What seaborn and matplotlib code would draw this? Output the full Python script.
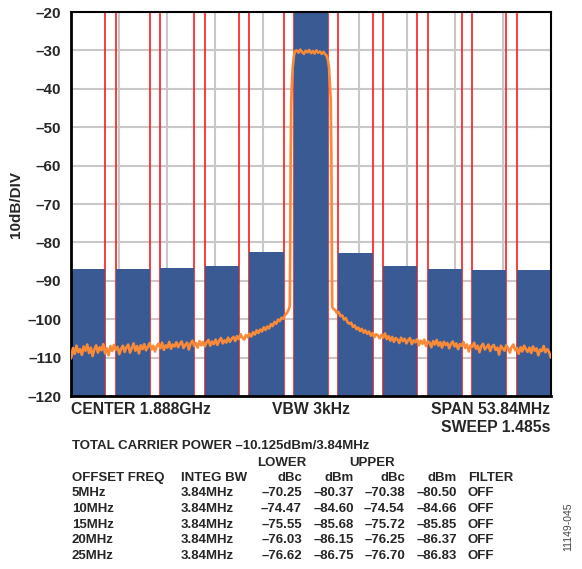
import numpy as np
import pandas as pd
import seaborn as sns
import matplotlib.pyplot as plt

# channel power bars (MHz offset from center, dBm)
channel_offsets = [-25, -20, -15, -10, -5, 0, 5, 10, 15, 20, 25]
channel_power = [-87.0, -87.0, -86.7, -86.1, -82.6, -10.1, -82.8, -86.2, -87.0, -87.3, -87.3]
integ_bw = 3.84
span = 53.84

# spectrum trace, lower side noise floor (0.2 MHz steps)
lower_freq = np.linspace(-26.9, -2.5, 123)
lower_dbm = [-110.2, -107.5, -109.0, -106.9, -108.6, -107.8, -109.3, -107.1, -108.2, -106.6,
             -108.8, -107.4, -109.6, -107.9, -106.8, -108.7, -107.3, -108.1, -106.5, -108.9,
             -107.6, -109.4, -107.0, -108.3, -106.7, -108.0, -107.2, -109.1, -107.7, -106.9,
             -108.5, -107.3, -106.6, -108.7, -107.5, -106.3, -108.2, -107.0, -108.9, -106.8,
             -107.8, -106.5, -108.1, -107.2, -106.2, -107.9, -106.9, -108.4, -107.0, -106.4,
             -107.6, -106.1, -108.0, -106.8, -107.4, -105.9, -107.7, -106.6, -107.1, -106.0,
             -107.3, -106.4, -105.8, -107.5, -106.7, -106.1, -107.9, -106.3, -105.6, -107.0,
             -106.2, -107.4, -105.7, -106.8, -105.9, -107.1, -106.0, -105.4, -106.9, -105.8,
             -106.5, -105.3, -106.7, -105.6, -104.9, -106.3, -105.5, -106.1, -104.8, -105.9,
             -105.1, -104.6, -105.7, -104.4, -105.2, -103.9, -104.8, -105.3, -104.1, -104.7,
             -103.8, -104.5, -103.4, -104.0, -102.9, -103.6, -102.7, -103.2, -102.1, -102.8,
             -101.9, -102.4, -101.3, -101.8, -100.7, -101.2, -100.1, -100.5, -99.6, -99.9,
             -98.9, -98.4, -97.5]

# carrier
carrier_freq = [-2.38, -2.33, -2.28, -2.22, -2.15, -2.05, -1.92, -1.8,
                -1.6, -1.4, -1.2, -1.0, -0.8, -0.6, -0.4, -0.2, 0.0, 0.2, 0.4, 0.6, 0.8, 1.0, 1.2, 1.4, 1.6,
                1.75, 1.9, 2.02, 2.12, 2.22, 2.28, 2.33, 2.38]
carrier_dbm = [-96.5, -80.0, -58.0, -44.0, -39.0, -34.5, -31.5, -30.2,
               -30.0, -30.6, -29.8, -30.4, -30.9, -30.1, -30.5, -29.9, -30.7, -30.2, -30.8, -30.0,
               -30.6, -30.3, -30.9, -30.4, -31.0,
               -31.4, -32.5, -34.4, -38.6, -43.0, -56.0, -78.0, -96.8]

# upper side noise floor (0.2 MHz steps)
upper_freq = np.linspace(2.5, 26.9, 123)
upper_dbm = [-97.3, -97.6, -98.4, -98.1, -99.2, -99.0, -100.1, -99.7, -100.8, -101.2,
             -100.9, -102.0, -101.6, -102.6, -102.2, -103.1, -102.5, -103.5, -102.9, -103.8,
             -103.2, -104.3, -103.6, -104.7, -103.9, -104.2, -105.0, -104.1, -104.8, -103.7,
             -105.2, -104.4, -105.6, -104.6, -105.9, -104.9, -105.3, -106.2, -104.8, -105.7,
             -105.1, -106.3, -105.4, -104.9, -106.5, -105.5, -106.0, -105.2, -106.8, -105.6,
             -106.4, -105.3, -107.0, -105.8, -106.1, -107.3, -105.7, -106.6, -105.4, -106.9,
             -106.0, -107.4, -105.9, -106.7, -106.2, -107.6, -106.4, -105.8, -107.1, -106.3,
             -107.8, -106.5, -106.9, -105.9, -107.5, -106.6, -108.4, -106.8, -107.2, -106.1,
             -107.7, -106.9, -108.6, -107.0, -106.4, -107.9, -107.3, -106.6, -108.3, -107.1,
             -106.7, -108.0, -107.4, -109.2, -106.9, -107.6, -108.2, -106.8, -107.5, -108.7,
             -107.2, -106.6, -108.1, -107.5, -109.0, -107.3, -108.4, -106.9, -107.8, -108.5,
             -107.4, -108.8, -107.1, -108.2, -107.6, -109.4, -107.9, -108.3, -107.0, -108.6,
             -107.8, -108.5, -110.0]

# ACLR table
offset_freqs = ["5MHz", "10MHz", "15MHz", "20MHz", "25MHz"]
lower_dbc = ["–70.25", "–74.47", "–75.55", "–76.03", "–76.62"]
lower_dbm_tab = ["–80.37", "–84.60", "–85.68", "–86.15", "–86.75"]
upper_dbc = ["–70.38", "–74.54", "–75.72", "–76.25", "–76.70"]
upper_dbm_tab = ["–80.50", "–84.66", "–85.85", "–86.37", "–86.83"]

bars = pd.DataFrame({"offset": channel_offsets, "power": channel_power})
bars["rel"] = bars["power"] + 120
trace = pd.DataFrame({
    "freq": np.concatenate([lower_freq, carrier_freq, upper_freq]),
    "dbm": np.concatenate([lower_dbm, carrier_dbm, upper_dbm]),
})

sns.set_style("white")
plt.rcParams["font.family"] = ["Liberation Sans", "DejaVu Sans"]
plt.rcParams["font.weight"] = "bold"

W, H = 582, 569
fig = plt.figure(figsize=(W / 100, H / 100), dpi=100)
ax = fig.add_axes([71 / W, 1 - 396 / H, 480 / W, 384 / H])

half = span / 2

# grid
for k in range(1, 10):
    ax.axvline(-half + k * span / 10, color="#c8c8c8", lw=1.5, zorder=0)
for v in range(-110, -20, 10):
    ax.axhline(v, color="#c8c8c8", lw=1.5, zorder=0)

# integration bandwidth markers
for c in channel_offsets:
    for e in (c - integ_bw / 2, c + integ_bw / 2):
        if -half + 0.1 < e < half - 0.1:
            ax.axvline(e, color="#ff1a1a", lw=1.2, zorder=1)

sns.barplot(data=bars, x="offset", y="rel", native_scale=True, width=integ_bw / 5,
            color="#3a5a94", saturation=1, bottom=-120, linewidth=0, ax=ax, zorder=2)

sns.lineplot(data=trace, x="freq", y="dbm", sort=False, estimator=None,
             color="#f88a3a", lw=1.9, ax=ax, zorder=3)

ax.set_xlim(-half, half)
ax.set_ylim(-120, -20)
ax.set_xticks([])
yt = list(range(-120, -19, 10))
ax.set_yticks(yt)
ax.set_yticklabels([str(v).replace("-", "–") for v in yt], fontsize=11, fontweight="bold")
ax.tick_params(axis="y", length=0, pad=7)
ax.set_xlabel("")
ax.set_ylabel("10dB/DIV", fontsize=11, fontweight="bold", labelpad=3)
for s in ax.spines.values():
    s.set_color("black")
    s.set_linewidth(1.5)
ax.spines["left"].set_linewidth(2)
ax.spines["bottom"].set_linewidth(2)

def px(x, y):
    return x / W, 1 - y / H

tk = dict(fontsize=11.3, fontweight="bold", va="center")
fig.text(*px(71, 409), "CENTER 1.888GHz", ha="left", **tk)
fig.text(*px(311, 409), "VBW 3kHz", ha="center", **tk)
fig.text(*px(550, 409), "SPAN 53.84MHz", ha="right", **tk)
fig.text(*px(550, 428), "SWEEP 1.485s", ha="right", **tk)

sm = dict(fontsize=9.5, fontweight="bold", va="center")
fig.text(*px(72, 446), "TOTAL CARRIER POWER –10.125dBm/3.84MHz", ha="left", **sm)
fig.text(*px(282, 463), "LOWER", ha="center", **sm)
fig.text(*px(372, 463), "UPPER", ha="center", **sm)
hy = 478
fig.text(*px(72, hy), "OFFSET FREQ", ha="left", **sm)
fig.text(*px(181, hy), "INTEG BW", ha="left", **sm)
fig.text(*px(302, hy), "dBc", ha="right", **sm)
fig.text(*px(354, hy), "dBm", ha="right", **sm)
fig.text(*px(405, hy), "dBc", ha="right", **sm)
fig.text(*px(457, hy), "dBm", ha="right", **sm)
fig.text(*px(468, hy), "FILTER", ha="left", **sm)
for i in range(5):
    y = 493 + i * 15.8
    fig.text(*px(72, y), offset_freqs[i], ha="left", **sm)
    fig.text(*px(181, y), "3.84MHz", ha="left", **sm)
    fig.text(*px(302, y), lower_dbc[i], ha="right", **sm)
    fig.text(*px(354, y), lower_dbm_tab[i], ha="right", **sm)
    fig.text(*px(405, y), upper_dbc[i], ha="right", **sm)
    fig.text(*px(457, y), upper_dbm_tab[i], ha="right", **sm)
    fig.text(*px(468, y), "OFF", ha="left", **sm)

fig.text(*px(568, 527), "11149-045", rotation=90, ha="center", va="center",
         fontsize=7.5, fontweight="normal", color="#444444")

fig.savefig("out.png", dpi=100)
